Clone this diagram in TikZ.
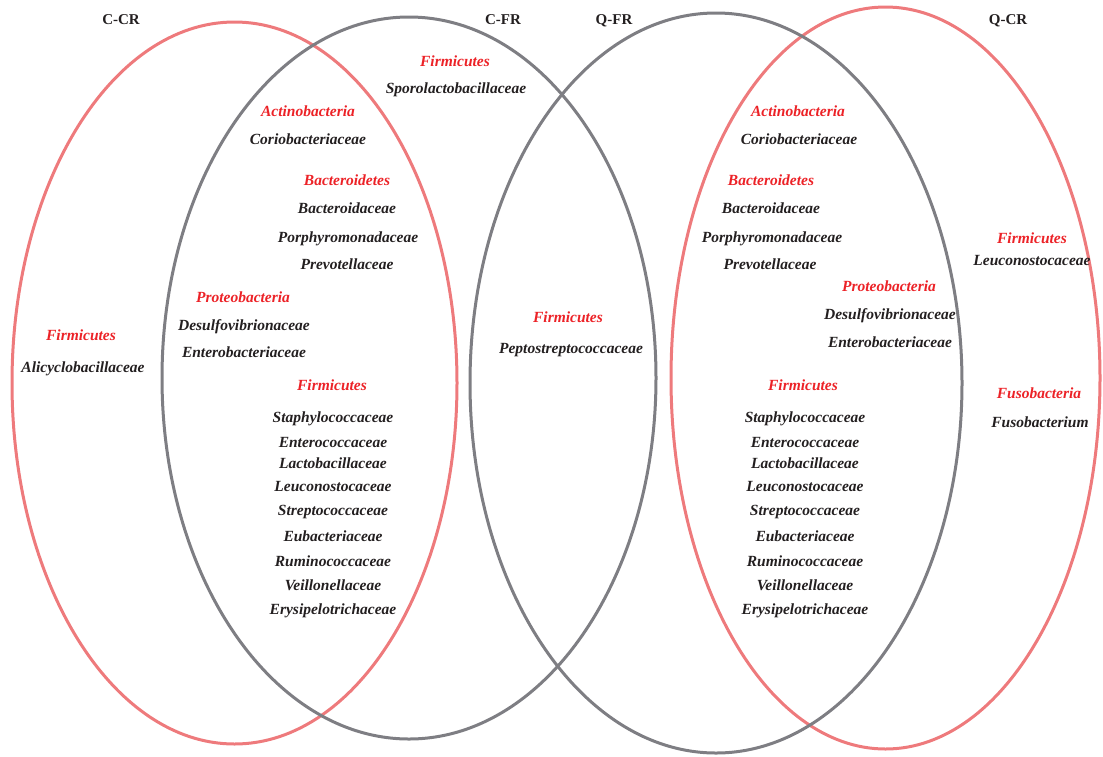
\documentclass[tikz,border=0pt]{standalone}
\usepackage{fontspec}
\setmainfont{Liberation Serif}
\definecolor{redtxt}{RGB}{236,34,39}
\definecolor{redline}{RGB}{238,122,124}
\definecolor{grayline}{RGB}{126,126,131}
\definecolor{blacktxt}{RGB}{35,31,32}
\tikzset{
  txtbase/.style={inner sep=0pt, text height=0.7em, text depth=0.2em, yshift=-2.5pt},
  phylum/.style={txtbase, font=\fontsize{15.5}{17}\selectfont\bfseries\itshape, text=redtxt},
  family/.style={txtbase, font=\fontsize{15.5}{17}\selectfont\bfseries\itshape, text=blacktxt},
  grouplabel/.style={txtbase, font=\fontsize{15}{17}\selectfont\bfseries, text=blacktxt},
  redring/.style={draw=redline, line width=3pt},
  grayring/.style={draw=grayline, line width=3pt}
}
\begin{document}
\begin{tikzpicture}[x=1pt,y=-1pt]
\useasboundingbox (0,0) rectangle (1103,756);
% ellipses
\draw[redring] (234.5,383) ellipse [x radius=222.5, y radius=361];
\draw[redring] (885.5,378) ellipse [x radius=214.5, y radius=371];
\draw[grayring] (409,378) ellipse [x radius=247, y radius=361];
\draw[grayring] (716,383) ellipse [x radius=246, y radius=370];
% group labels
\node[grouplabel] (lccr) at (121,19) {C-CR};
\node[grouplabel] (lcfr) at (503,19) {C-FR};
\node[grouplabel] (lqfr) at (614,19) {Q-FR};
\node[grouplabel] (lqcr) at (1008,19) {Q-CR};
% C-CR only
\node[phylum] (a1) at (81,335) {Firmicutes};
\node[family] (a2) at (83,367) {Alicyclobacillaceae};
% C-FR only
\node[phylum] (b1) at (455,61) {Firmicutes};
\node[family] (b2) at (456,88) {Sporolactobacillaceae};
% C-CR and C-FR
\node[phylum] (c1) at (308,111) {Actinobacteria};
\node[family] (c2) at (308,139) {Coriobacteriaceae};
\node[phylum] (c3) at (347,180) {Bacteroidetes};
\node[family] (c4) at (347,208) {Bacteroidaceae};
\node[family] (c5) at (348,237) {Porphyromonadaceae};
\node[family] (c6) at (347,264) {Prevotellaceae};
\node[phylum] (c7) at (243,297) {Proteobacteria};
\node[family] (c8) at (244,325) {Desulfovibrionaceae};
\node[family] (c9) at (244,352) {Enterobacteriaceae};
\node[phylum] (c10) at (332,385) {Firmicutes};
\node[family] (c11) at (333,417) {Staphylococcaceae};
\node[family] (c12) at (333,442) {Enterococcaceae};
\node[family] (c13) at (333,463) {Lactobacillaceae};
\node[family] (c14) at (333,486) {Leuconostocaceae};
\node[family] (c15) at (333,510) {Streptococcaceae};
\node[family] (c16) at (333,536) {Eubacteriaceae};
\node[family] (c17) at (333,561) {Ruminococcaceae};
\node[family] (c18) at (333,585) {Veillonellaceae};
\node[family] (c19) at (333,609) {Erysipelotrichaceae};
% C-FR and Q-FR
\node[phylum] (d1) at (568,317) {Firmicutes};
\node[family] (d2) at (571,348) {Peptostreptococcaceae};
% Q-FR and Q-CR
\node[phylum] (e1) at (798,111) {Actinobacteria};
\node[family] (e2) at (799,139) {Coriobacteriaceae};
\node[phylum] (e3) at (771,180) {Bacteroidetes};
\node[family] (e4) at (771,208) {Bacteroidaceae};
\node[family] (e5) at (772,237) {Porphyromonadaceae};
\node[family] (e6) at (770,264) {Prevotellaceae};
\node[phylum] (e7) at (889,286) {Proteobacteria};
\node[family] (e8) at (890,314) {Desulfovibrionaceae};
\node[family] (e9) at (890,342) {Enterobacteriaceae};
\node[phylum] (e10) at (803,385) {Firmicutes};
\node[family] (e11) at (805,417) {Staphylococcaceae};
\node[family] (e12) at (805,442) {Enterococcaceae};
\node[family] (e13) at (805,463) {Lactobacillaceae};
\node[family] (e14) at (805,486) {Leuconostocaceae};
\node[family] (e15) at (805,510) {Streptococcaceae};
\node[family] (e16) at (805,536) {Eubacteriaceae};
\node[family] (e17) at (805,561) {Ruminococcaceae};
\node[family] (e18) at (805,585) {Veillonellaceae};
\node[family] (e19) at (805,609) {Erysipelotrichaceae};
% Q-CR only
\node[phylum] (f1) at (1032,238) {Firmicutes};
\node[family] (f2) at (1032,260) {Leuconostocaceae};
\node[phylum] (f3) at (1039,393) {Fusobacteria};
\node[family] (f4) at (1040,422) {Fusobacterium};
\end{tikzpicture}
\end{document}
